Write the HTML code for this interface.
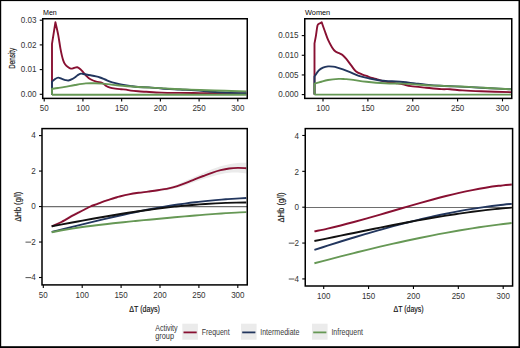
<!DOCTYPE html>
<html><head><meta charset="utf-8"><title>Activity group chart</title>
<style>
html,body{margin:0;padding:0;background:#fff;}
body{width:520px;height:348px;position:relative;overflow:hidden;font-family:"Liberation Sans", sans-serif;}
text.b{stroke:#222;stroke-width:0.18px;}
</style></head><body>
<svg width="520" height="348" viewBox="0 0 520 348" style="position:absolute;left:0;top:0">
<rect x="0" y="0" width="520" height="348" fill="#fff"/>
<defs>
<clipPath id="ctl"><rect x="42.72" y="18.75" width="204.53" height="79.65"/></clipPath>
<clipPath id="ctr"><rect x="304.75" y="18.75" width="207.00" height="79.65"/></clipPath>
<clipPath id="cbl"><rect x="42.00" y="128.60" width="205.25" height="156.30"/></clipPath>
<clipPath id="cbr"><rect x="305.25" y="128.60" width="207.35" height="157.40"/></clipPath>
</defs>
<g clip-path="url(#ctl)">
<path d="M52.00 94.70 C52.00 86.23 52.00 52.37 52.00 43.90 C52.57 40.30 54.83 25.90 55.40 22.30 C55.87 24.40 57.37 30.55 58.20 34.90 C59.03 39.25 59.78 44.95 60.40 48.40 C61.02 51.85 61.42 53.57 61.90 55.60 C62.38 57.63 62.80 59.20 63.30 60.60 C63.80 62.00 64.13 62.93 64.90 64.00 C65.67 65.07 66.90 66.23 67.90 67.00 C68.90 67.77 69.90 68.43 70.90 68.60 C71.90 68.77 72.83 68.22 73.90 68.00 C74.97 67.78 76.22 67.10 77.30 67.30 C78.38 67.50 79.37 68.32 80.40 69.20 C81.43 70.08 82.48 71.47 83.50 72.60 C84.52 73.73 85.33 74.88 86.50 76.00 C87.67 77.12 88.88 78.35 90.50 79.30 C92.12 80.25 94.28 81.12 96.20 81.70 C98.12 82.28 100.33 82.08 102.00 82.80 C103.67 83.52 104.87 85.20 106.20 86.00 C107.53 86.80 108.47 87.17 110.00 87.60 C111.53 88.03 113.57 88.33 115.40 88.60 C117.23 88.87 119.20 89.03 121.00 89.20 C122.80 89.37 124.57 89.37 126.20 89.60 C127.83 89.83 128.83 90.32 130.80 90.60 C132.77 90.88 135.43 91.10 138.00 91.30 C140.57 91.50 142.28 91.58 146.20 91.80 C150.12 92.02 155.87 92.42 161.50 92.60 C167.13 92.78 173.58 92.82 180.00 92.90 C186.42 92.98 193.33 93.03 200.00 93.10 C206.67 93.17 212.28 93.25 220.00 93.30 C227.72 93.35 241.92 93.38 246.30 93.40" fill="none" stroke="#881032" stroke-width="1.90" stroke-linejoin="round" stroke-linecap="butt" />
<path d="M52.00 94.70 C52.00 92.53 52.00 83.87 52.00 81.70 C52.47 81.28 53.77 79.88 54.80 79.20 C55.83 78.52 57.00 77.65 58.20 77.60 C59.40 77.55 60.78 78.48 62.00 78.90 C63.22 79.32 64.42 79.83 65.50 80.10 C66.58 80.37 67.42 80.65 68.50 80.50 C69.58 80.35 70.83 79.80 72.00 79.20 C73.17 78.60 74.42 77.67 75.50 76.90 C76.58 76.13 77.55 75.15 78.50 74.60 C79.45 74.05 80.12 73.65 81.20 73.60 C82.28 73.55 83.45 74.02 85.00 74.30 C86.55 74.58 88.67 74.95 90.50 75.30 C92.33 75.65 94.42 76.03 96.00 76.40 C97.58 76.77 98.50 76.98 100.00 77.50 C101.50 78.02 103.33 78.82 105.00 79.50 C106.67 80.18 108.27 80.98 110.00 81.60 C111.73 82.22 113.40 82.67 115.40 83.20 C117.40 83.73 119.43 84.32 122.00 84.80 C124.57 85.28 128.05 85.73 130.80 86.10 C133.55 86.47 135.43 86.78 138.50 87.00 C141.57 87.22 145.37 87.15 149.20 87.40 C153.03 87.65 156.37 88.15 161.50 88.50 C166.63 88.85 174.42 89.20 180.00 89.50 C185.58 89.80 190.50 90.00 195.00 90.30 C199.50 90.60 203.17 90.97 207.00 91.30 C210.83 91.63 214.17 92.03 218.00 92.30 C221.83 92.57 225.28 92.75 230.00 92.90 C234.72 93.05 243.58 93.15 246.30 93.20" fill="none" stroke="#22365e" stroke-width="1.90" stroke-linejoin="round" stroke-linecap="butt" />
<path d="M52.00 94.70 C52.00 93.72 52.00 89.78 52.00 88.80 C53.00 88.67 55.83 88.32 58.00 88.00 C60.17 87.68 62.17 87.40 65.00 86.90 C67.83 86.40 71.53 85.58 75.00 85.00 C78.47 84.42 82.47 83.68 85.80 83.40 C89.13 83.12 92.30 83.27 95.00 83.30 C97.70 83.33 99.50 83.42 102.00 83.60 C104.50 83.78 107.50 84.12 110.00 84.40 C112.50 84.68 114.50 85.03 117.00 85.30 C119.50 85.57 122.00 85.75 125.00 86.00 C128.00 86.25 130.83 86.53 135.00 86.80 C139.17 87.07 145.58 87.38 150.00 87.60 C154.42 87.82 158.17 87.90 161.50 88.10 C164.83 88.30 166.08 88.57 170.00 88.80 C173.92 89.03 180.00 89.30 185.00 89.50 C190.00 89.70 193.33 89.78 200.00 90.00 C206.67 90.22 217.28 90.57 225.00 90.80 C232.72 91.03 242.75 91.30 246.30 91.40" fill="none" stroke="#669855" stroke-width="1.90" stroke-linejoin="round" stroke-linecap="butt" />
<line x1="52" y1="94.7" x2="246.5" y2="94.7" stroke="#669855" stroke-width="1.90"/>
</g>
<g clip-path="url(#ctr)">
<path d="M314.50 94.60 C314.50 86.07 314.50 51.93 314.50 43.40 C314.75 42.05 315.50 38.28 316.00 35.30 C316.50 32.32 316.93 27.45 317.50 25.50 C318.07 23.55 318.70 24.13 319.40 23.60 C320.10 23.07 321.32 22.52 321.70 22.30 C322.18 23.67 323.53 27.57 324.60 30.50 C325.67 33.43 326.85 37.08 328.10 39.90 C329.35 42.72 330.87 45.45 332.10 47.40 C333.33 49.35 334.25 50.60 335.50 51.60 C336.75 52.60 338.43 52.83 339.60 53.40 C340.77 53.97 341.35 54.03 342.50 55.00 C343.65 55.97 345.05 57.47 346.50 59.20 C347.95 60.93 349.65 63.40 351.20 65.40 C352.75 67.40 354.02 69.70 355.80 71.20 C357.58 72.70 360.12 73.62 361.90 74.40 C363.68 75.18 364.82 75.30 366.50 75.90 C368.18 76.50 370.20 77.43 372.00 78.00 C373.80 78.57 375.13 78.70 377.30 79.30 C379.47 79.90 381.98 80.97 385.00 81.60 C388.02 82.23 392.40 82.65 395.40 83.10 C398.40 83.55 400.43 83.80 403.00 84.30 C405.57 84.80 406.93 85.53 410.80 86.10 C414.67 86.67 421.08 87.20 426.20 87.70 C431.32 88.20 437.53 88.85 441.50 89.10 C445.47 89.35 446.50 88.98 450.00 89.20 C453.50 89.42 457.33 90.05 462.50 90.40 C467.67 90.75 472.87 91.00 481.00 91.30 C489.13 91.60 506.25 92.05 511.30 92.20" fill="none" stroke="#881032" stroke-width="1.90" stroke-linejoin="round" stroke-linecap="butt" />
<path d="M314.50 94.60 C314.50 91.58 314.50 79.52 314.50 76.50 C315.22 75.48 317.38 71.88 318.80 70.40 C320.22 68.92 321.45 68.27 323.00 67.60 C324.55 66.93 326.43 66.57 328.10 66.40 C329.77 66.23 331.47 66.40 333.00 66.60 C334.53 66.80 334.78 66.82 337.30 67.60 C339.82 68.38 344.52 69.93 348.10 71.30 C351.68 72.67 355.22 74.60 358.80 75.80 C362.38 77.00 366.07 77.72 369.60 78.50 C373.13 79.28 376.27 80.03 380.00 80.50 C383.73 80.97 388.17 81.05 392.00 81.30 C395.83 81.55 399.17 81.65 403.00 82.00 C406.83 82.35 411.17 82.97 415.00 83.40 C418.83 83.83 421.83 84.22 426.00 84.60 C430.17 84.98 435.17 85.40 440.00 85.70 C444.83 86.00 450.00 86.17 455.00 86.40 C460.00 86.63 464.17 86.80 470.00 87.10 C475.83 87.40 483.12 87.83 490.00 88.20 C496.88 88.57 507.75 89.12 511.30 89.30" fill="none" stroke="#22365e" stroke-width="1.90" stroke-linejoin="round" stroke-linecap="butt" />
<path d="M314.50 94.60 C314.50 92.77 314.50 85.43 314.50 83.60 C315.48 83.33 318.15 82.60 320.40 82.00 C322.65 81.40 324.93 80.52 328.00 80.00 C331.07 79.48 335.97 79.05 338.80 78.90 C341.63 78.75 342.93 78.98 345.00 79.10 C347.07 79.22 347.62 79.15 351.20 79.60 C354.78 80.05 360.87 81.18 366.50 81.80 C372.13 82.42 378.92 83.00 385.00 83.30 C391.08 83.60 398.00 83.42 403.00 83.60 C408.00 83.78 411.17 84.12 415.00 84.40 C418.83 84.68 421.83 85.07 426.00 85.30 C430.17 85.53 435.17 85.62 440.00 85.80 C444.83 85.98 450.18 86.22 455.00 86.40 C459.82 86.58 464.18 86.67 468.90 86.90 C473.62 87.13 476.23 87.38 483.30 87.80 C490.37 88.22 506.63 89.13 511.30 89.40" fill="none" stroke="#669855" stroke-width="1.90" stroke-linejoin="round" stroke-linecap="butt" />
<line x1="314.5" y1="94.6" x2="511.5" y2="94.6" stroke="#669855" stroke-width="1.90"/>
</g>
<g clip-path="url(#cbl)">
<path d="M51.70 225.00 C53.33 224.28 57.93 222.60 61.50 220.70 C65.07 218.80 69.25 215.73 73.10 213.60 C76.95 211.47 80.75 209.65 84.60 207.90 C88.45 206.15 91.97 204.68 96.20 203.10 C100.43 201.52 106.17 199.62 110.00 198.40 C113.83 197.18 114.45 196.88 119.20 195.80 C123.95 194.72 132.08 193.00 138.50 191.90 C144.92 190.80 152.67 190.03 157.70 189.20 C162.73 188.37 165.43 187.70 168.70 186.90 C171.97 186.10 174.42 185.45 177.30 184.40 C180.18 183.35 183.12 181.87 186.00 180.60 C188.88 179.33 191.72 178.07 194.60 176.80 C197.48 175.53 200.42 174.27 203.30 173.00 C206.18 171.73 209.02 170.33 211.90 169.20 C214.78 168.07 217.72 167.03 220.60 166.20 C223.48 165.37 226.32 164.73 229.20 164.20 C232.08 163.67 235.05 163.23 237.90 163.00 C240.75 162.77 244.90 162.83 246.30 162.80 L246.30 173.40 C244.90 173.27 240.75 172.70 237.90 172.60 C235.05 172.50 232.08 172.53 229.20 172.80 C226.32 173.07 223.48 173.60 220.60 174.20 C217.72 174.80 214.78 175.60 211.90 176.40 C209.02 177.20 206.18 178.07 203.30 179.00 C200.42 179.93 197.48 180.97 194.60 182.00 C191.72 183.03 188.88 184.23 186.00 185.20 C183.12 186.17 180.18 187.02 177.30 187.80 C174.42 188.58 171.97 189.30 168.70 189.90 C165.43 190.50 162.73 190.77 157.70 191.40 C152.67 192.03 144.92 192.70 138.50 193.70 C132.08 194.70 123.95 196.35 119.20 197.40 C114.45 198.45 113.83 198.78 110.00 200.00 C106.17 201.22 100.43 203.12 96.20 204.70 C91.97 206.28 88.45 207.68 84.60 209.50 C80.75 211.32 76.95 213.33 73.10 215.60 C69.25 217.87 65.07 221.03 61.50 223.10 C57.93 225.17 53.33 227.18 51.70 228.00 Z" fill="#ebebeb" stroke="none"/>
<line x1="42.00" y1="206.60" x2="247.25" y2="206.60" stroke="#6e6e6e" stroke-width="1.1"/>
<path d="M51.70 226.50 C53.33 225.75 57.93 223.85 61.50 222.00 C65.07 220.15 70.27 216.97 73.10 215.40 C75.93 213.83 76.58 213.58 78.50 212.60 C80.42 211.62 82.60 210.52 84.60 209.50 C86.60 208.48 88.57 207.37 90.50 206.50 C92.43 205.63 94.30 205.03 96.20 204.30 C98.10 203.57 99.60 202.92 101.90 202.10 C104.20 201.28 107.65 200.17 110.00 199.40 C112.35 198.63 114.47 197.97 116.00 197.50 C117.53 197.03 117.07 197.12 119.20 196.60 C121.33 196.08 125.58 195.03 128.80 194.40 C132.02 193.77 135.28 193.27 138.50 192.80 C141.72 192.33 144.90 192.02 148.10 191.60 C151.30 191.18 154.27 190.83 157.70 190.30 C161.13 189.77 165.43 189.10 168.70 188.40 C171.97 187.70 174.42 187.02 177.30 186.10 C180.18 185.18 183.12 184.02 186.00 182.90 C188.88 181.78 191.72 180.55 194.60 179.40 C197.48 178.25 200.42 177.10 203.30 176.00 C206.18 174.90 209.02 173.77 211.90 172.80 C214.78 171.83 217.72 170.92 220.60 170.20 C223.48 169.48 226.32 168.88 229.20 168.50 C232.08 168.12 235.05 167.95 237.90 167.90 C240.75 167.85 244.90 168.15 246.30 168.20" fill="none" stroke="#881032" stroke-width="1.90" stroke-linejoin="round" stroke-linecap="butt" />
<path d="M51.70 231.82 C53.41 231.42 58.53 230.23 61.94 229.41 C65.36 228.60 68.77 227.77 72.18 226.94 C75.60 226.10 79.01 225.26 82.43 224.42 C85.84 223.59 89.25 222.74 92.67 221.91 C96.08 221.08 99.50 220.25 102.91 219.44 C106.32 218.62 109.74 217.81 113.15 217.02 C116.57 216.23 119.98 215.46 123.39 214.70 C126.81 213.94 130.22 213.20 133.64 212.48 C137.05 211.77 140.46 211.07 143.88 210.40 C147.29 209.73 150.71 209.08 154.12 208.45 C157.54 207.83 160.95 207.23 164.36 206.66 C167.78 206.09 171.19 205.55 174.61 205.03 C178.02 204.52 181.43 204.03 184.85 203.57 C188.26 203.11 191.68 202.67 195.09 202.27 C198.50 201.86 201.92 201.48 205.33 201.13 C208.75 200.77 212.16 200.45 215.57 200.14 C218.99 199.84 222.40 199.56 225.82 199.30 C229.23 199.04 232.64 198.81 236.06 198.59 C239.47 198.37 244.59 198.09 246.30 197.99" fill="none" stroke="#22365e" stroke-width="1.90" stroke-linejoin="round" stroke-linecap="butt" />
<path d="M51.70 226.29 C53.41 225.97 58.53 225.02 61.94 224.39 C65.36 223.76 68.77 223.12 72.18 222.50 C75.60 221.87 79.01 221.24 82.43 220.62 C85.84 220.00 89.25 219.38 92.67 218.78 C96.08 218.17 99.50 217.57 102.91 216.98 C106.32 216.39 109.74 215.80 113.15 215.23 C116.57 214.67 119.98 214.11 123.39 213.56 C126.81 213.02 130.22 212.49 133.64 211.98 C137.05 211.46 140.46 210.96 143.88 210.48 C147.29 210.00 150.71 209.53 154.12 209.09 C157.54 208.64 160.95 208.21 164.36 207.80 C167.78 207.40 171.19 207.01 174.61 206.64 C178.02 206.28 181.43 205.93 184.85 205.61 C188.26 205.29 191.68 204.99 195.09 204.71 C198.50 204.44 201.92 204.18 205.33 203.96 C208.75 203.73 212.16 203.53 215.57 203.35 C218.99 203.17 222.40 203.02 225.82 202.89 C229.23 202.77 232.64 202.67 236.06 202.60 C239.47 202.52 244.59 202.48 246.30 202.46" fill="none" stroke="#111" stroke-width="1.90" stroke-linejoin="round" stroke-linecap="butt" />
<path d="M51.70 232.20 C53.41 231.88 58.53 230.88 61.94 230.27 C65.36 229.67 68.77 229.11 72.18 228.57 C75.60 228.04 79.01 227.54 82.43 227.06 C85.84 226.58 89.25 226.13 92.67 225.70 C96.08 225.26 99.50 224.85 102.91 224.45 C106.32 224.05 109.74 223.67 113.15 223.29 C116.57 222.92 119.98 222.56 123.39 222.21 C126.81 221.85 130.22 221.51 133.64 221.17 C137.05 220.82 140.46 220.49 143.88 220.16 C147.29 219.83 150.71 219.50 154.12 219.18 C157.54 218.85 160.95 218.53 164.36 218.22 C167.78 217.90 171.19 217.58 174.61 217.27 C178.02 216.96 181.43 216.65 184.85 216.35 C188.26 216.05 191.68 215.75 195.09 215.47 C198.50 215.18 201.92 214.90 205.33 214.63 C208.75 214.36 212.16 214.09 215.57 213.85 C218.99 213.60 222.40 213.37 225.82 213.16 C229.23 212.95 232.64 212.75 236.06 212.58 C239.47 212.41 244.59 212.22 246.30 212.15" fill="none" stroke="#669855" stroke-width="1.90" stroke-linejoin="round" stroke-linecap="butt" />
</g>
<g clip-path="url(#cbr)">
<line x1="305.25" y1="207.45" x2="512.60" y2="207.45" stroke="#6e6e6e" stroke-width="1.1"/>
<path d="M314.40 231.41 C316.59 230.94 323.17 229.61 327.56 228.62 C331.95 227.63 336.33 226.56 340.72 225.47 C345.11 224.37 349.49 223.22 353.88 222.04 C358.27 220.86 362.65 219.64 367.04 218.40 C371.43 217.16 375.81 215.89 380.20 214.62 C384.59 213.34 388.97 212.05 393.36 210.76 C397.75 209.48 402.13 208.18 406.52 206.91 C410.91 205.64 415.29 204.36 419.68 203.12 C424.07 201.89 428.45 200.66 432.84 199.48 C437.23 198.30 441.61 197.14 446.00 196.04 C450.39 194.94 454.77 193.88 459.16 192.89 C463.55 191.89 467.93 190.95 472.32 190.08 C476.71 189.22 481.09 188.41 485.48 187.70 C489.87 186.98 494.25 186.34 498.64 185.80 C503.03 185.26 509.61 184.69 511.80 184.47" fill="none" stroke="#881032" stroke-width="1.90" stroke-linejoin="round" stroke-linecap="butt" />
<path d="M314.40 249.92 C316.59 249.21 323.17 247.07 327.56 245.67 C331.95 244.27 336.33 242.88 340.72 241.52 C345.11 240.15 349.49 238.80 353.88 237.47 C358.27 236.15 362.65 234.84 367.04 233.56 C371.43 232.28 375.81 231.02 380.20 229.79 C384.59 228.56 388.97 227.35 393.36 226.18 C397.75 225.00 402.13 223.86 406.52 222.75 C410.91 221.64 415.29 220.56 419.68 219.52 C424.07 218.48 428.45 217.47 432.84 216.50 C437.23 215.53 441.61 214.60 446.00 213.72 C450.39 212.83 454.77 211.98 459.16 211.18 C463.55 210.38 467.93 209.62 472.32 208.91 C476.71 208.20 481.09 207.54 485.48 206.92 C489.87 206.31 494.25 205.75 498.64 205.24 C503.03 204.73 509.61 204.10 511.80 203.88" fill="none" stroke="#22365e" stroke-width="1.90" stroke-linejoin="round" stroke-linecap="butt" />
<path d="M314.40 240.99 C316.59 240.55 323.17 239.22 327.56 238.33 C331.95 237.44 336.33 236.54 340.72 235.65 C345.11 234.75 349.49 233.85 353.88 232.95 C358.27 232.05 362.65 231.16 367.04 230.27 C371.43 229.38 375.81 228.49 380.20 227.61 C384.59 226.74 388.97 225.87 393.36 225.02 C397.75 224.17 402.13 223.32 406.52 222.50 C410.91 221.67 415.29 220.86 419.68 220.08 C424.07 219.29 428.45 218.52 432.84 217.77 C437.23 217.03 441.61 216.30 446.00 215.61 C450.39 214.92 454.77 214.25 459.16 213.61 C463.55 212.97 467.93 212.37 472.32 211.79 C476.71 211.22 481.09 210.68 485.48 210.18 C489.87 209.69 494.25 209.22 498.64 208.80 C503.03 208.38 509.61 207.86 511.80 207.67" fill="none" stroke="#111" stroke-width="1.90" stroke-linejoin="round" stroke-linecap="butt" />
<path d="M314.40 263.28 C316.59 262.70 323.16 260.96 327.55 259.81 C331.93 258.67 336.31 257.53 340.69 256.41 C345.08 255.29 349.46 254.18 353.84 253.08 C358.22 251.99 362.60 250.91 366.99 249.84 C371.37 248.78 375.75 247.73 380.13 246.70 C384.52 245.67 388.90 244.66 393.28 243.67 C397.66 242.68 402.04 241.70 406.43 240.75 C410.81 239.80 415.19 238.87 419.57 237.97 C423.96 237.06 428.34 236.18 432.72 235.32 C437.10 234.47 441.48 233.63 445.87 232.83 C450.25 232.03 454.63 231.25 459.01 230.50 C463.40 229.75 467.78 229.03 472.16 228.34 C476.54 227.65 480.92 226.99 485.31 226.37 C489.69 225.74 494.07 225.15 498.45 224.59 C502.84 224.03 509.41 223.28 511.60 223.02" fill="none" stroke="#669855" stroke-width="1.90" stroke-linejoin="round" stroke-linecap="butt" />
</g>
<rect x="42.72" y="18.75" width="204.53" height="79.65" fill="none" stroke="#000" stroke-width="1.5"/>
<rect x="304.75" y="18.75" width="207.00" height="79.65" fill="none" stroke="#000" stroke-width="1.5"/>
<rect x="42.00" y="128.60" width="205.25" height="156.30" fill="none" stroke="#000" stroke-width="1.5"/>
<rect x="305.25" y="128.60" width="207.35" height="157.40" fill="none" stroke="#000" stroke-width="1.5"/>
<line x1="44.20" y1="98.40" x2="44.20" y2="101.40" stroke="#000" stroke-width="1.1"/>
<text x="44.20" y="111.30" text-anchor="middle" font-size="8.6" fill="#333" font-family="&quot;Liberation Sans&quot;, sans-serif" textLength="8.90" lengthAdjust="spacingAndGlyphs">50</text>
<line x1="82.93" y1="98.40" x2="82.93" y2="101.40" stroke="#000" stroke-width="1.1"/>
<text x="82.93" y="111.30" text-anchor="middle" font-size="8.6" fill="#333" font-family="&quot;Liberation Sans&quot;, sans-serif" textLength="13.34" lengthAdjust="spacingAndGlyphs">100</text>
<line x1="121.65" y1="98.40" x2="121.65" y2="101.40" stroke="#000" stroke-width="1.1"/>
<text x="121.65" y="111.30" text-anchor="middle" font-size="8.6" fill="#333" font-family="&quot;Liberation Sans&quot;, sans-serif" textLength="13.34" lengthAdjust="spacingAndGlyphs">150</text>
<line x1="160.38" y1="98.40" x2="160.38" y2="101.40" stroke="#000" stroke-width="1.1"/>
<text x="160.38" y="111.30" text-anchor="middle" font-size="8.6" fill="#333" font-family="&quot;Liberation Sans&quot;, sans-serif" textLength="13.34" lengthAdjust="spacingAndGlyphs">200</text>
<line x1="199.10" y1="98.40" x2="199.10" y2="101.40" stroke="#000" stroke-width="1.1"/>
<text x="199.10" y="111.30" text-anchor="middle" font-size="8.6" fill="#333" font-family="&quot;Liberation Sans&quot;, sans-serif" textLength="13.34" lengthAdjust="spacingAndGlyphs">250</text>
<line x1="237.82" y1="98.40" x2="237.82" y2="101.40" stroke="#000" stroke-width="1.1"/>
<text x="237.82" y="111.30" text-anchor="middle" font-size="8.6" fill="#333" font-family="&quot;Liberation Sans&quot;, sans-serif" textLength="13.34" lengthAdjust="spacingAndGlyphs">300</text>
<line x1="43.30" y1="284.90" x2="43.30" y2="287.90" stroke="#000" stroke-width="1.1"/>
<text x="43.30" y="298.10" text-anchor="middle" font-size="8.6" fill="#333" font-family="&quot;Liberation Sans&quot;, sans-serif" textLength="8.90" lengthAdjust="spacingAndGlyphs">50</text>
<line x1="82.20" y1="284.90" x2="82.20" y2="287.90" stroke="#000" stroke-width="1.1"/>
<text x="82.20" y="298.10" text-anchor="middle" font-size="8.6" fill="#333" font-family="&quot;Liberation Sans&quot;, sans-serif" textLength="13.34" lengthAdjust="spacingAndGlyphs">100</text>
<line x1="121.10" y1="284.90" x2="121.10" y2="287.90" stroke="#000" stroke-width="1.1"/>
<text x="121.10" y="298.10" text-anchor="middle" font-size="8.6" fill="#333" font-family="&quot;Liberation Sans&quot;, sans-serif" textLength="13.34" lengthAdjust="spacingAndGlyphs">150</text>
<line x1="160.00" y1="284.90" x2="160.00" y2="287.90" stroke="#000" stroke-width="1.1"/>
<text x="160.00" y="298.10" text-anchor="middle" font-size="8.6" fill="#333" font-family="&quot;Liberation Sans&quot;, sans-serif" textLength="13.34" lengthAdjust="spacingAndGlyphs">200</text>
<line x1="198.90" y1="284.90" x2="198.90" y2="287.90" stroke="#000" stroke-width="1.1"/>
<text x="198.90" y="298.10" text-anchor="middle" font-size="8.6" fill="#333" font-family="&quot;Liberation Sans&quot;, sans-serif" textLength="13.34" lengthAdjust="spacingAndGlyphs">250</text>
<line x1="237.80" y1="284.90" x2="237.80" y2="287.90" stroke="#000" stroke-width="1.1"/>
<text x="237.80" y="298.10" text-anchor="middle" font-size="8.6" fill="#333" font-family="&quot;Liberation Sans&quot;, sans-serif" textLength="13.34" lengthAdjust="spacingAndGlyphs">300</text>
<line x1="323.00" y1="98.40" x2="323.00" y2="101.40" stroke="#000" stroke-width="1.1"/>
<text x="323.00" y="111.00" text-anchor="middle" font-size="8.6" fill="#333" font-family="&quot;Liberation Sans&quot;, sans-serif" textLength="13.34" lengthAdjust="spacingAndGlyphs">100</text>
<line x1="367.88" y1="98.40" x2="367.88" y2="101.40" stroke="#000" stroke-width="1.1"/>
<text x="367.88" y="111.00" text-anchor="middle" font-size="8.6" fill="#333" font-family="&quot;Liberation Sans&quot;, sans-serif" textLength="13.34" lengthAdjust="spacingAndGlyphs">150</text>
<line x1="412.75" y1="98.40" x2="412.75" y2="101.40" stroke="#000" stroke-width="1.1"/>
<text x="412.75" y="111.00" text-anchor="middle" font-size="8.6" fill="#333" font-family="&quot;Liberation Sans&quot;, sans-serif" textLength="13.34" lengthAdjust="spacingAndGlyphs">200</text>
<line x1="457.62" y1="98.40" x2="457.62" y2="101.40" stroke="#000" stroke-width="1.1"/>
<text x="457.62" y="111.00" text-anchor="middle" font-size="8.6" fill="#333" font-family="&quot;Liberation Sans&quot;, sans-serif" textLength="13.34" lengthAdjust="spacingAndGlyphs">250</text>
<line x1="502.50" y1="98.40" x2="502.50" y2="101.40" stroke="#000" stroke-width="1.1"/>
<text x="502.50" y="111.00" text-anchor="middle" font-size="8.6" fill="#333" font-family="&quot;Liberation Sans&quot;, sans-serif" textLength="13.34" lengthAdjust="spacingAndGlyphs">300</text>
<line x1="323.70" y1="286.00" x2="323.70" y2="289.00" stroke="#000" stroke-width="1.1"/>
<text x="323.70" y="299.20" text-anchor="middle" font-size="8.6" fill="#333" font-family="&quot;Liberation Sans&quot;, sans-serif" textLength="13.34" lengthAdjust="spacingAndGlyphs">100</text>
<line x1="368.57" y1="286.00" x2="368.57" y2="289.00" stroke="#000" stroke-width="1.1"/>
<text x="368.57" y="299.20" text-anchor="middle" font-size="8.6" fill="#333" font-family="&quot;Liberation Sans&quot;, sans-serif" textLength="13.34" lengthAdjust="spacingAndGlyphs">150</text>
<line x1="413.45" y1="286.00" x2="413.45" y2="289.00" stroke="#000" stroke-width="1.1"/>
<text x="413.45" y="299.20" text-anchor="middle" font-size="8.6" fill="#333" font-family="&quot;Liberation Sans&quot;, sans-serif" textLength="13.34" lengthAdjust="spacingAndGlyphs">200</text>
<line x1="458.32" y1="286.00" x2="458.32" y2="289.00" stroke="#000" stroke-width="1.1"/>
<text x="458.32" y="299.20" text-anchor="middle" font-size="8.6" fill="#333" font-family="&quot;Liberation Sans&quot;, sans-serif" textLength="13.34" lengthAdjust="spacingAndGlyphs">250</text>
<line x1="503.20" y1="286.00" x2="503.20" y2="289.00" stroke="#000" stroke-width="1.1"/>
<text x="503.20" y="299.20" text-anchor="middle" font-size="8.6" fill="#333" font-family="&quot;Liberation Sans&quot;, sans-serif" textLength="13.34" lengthAdjust="spacingAndGlyphs">300</text>
<line x1="39.72" y1="94.30" x2="42.72" y2="94.30" stroke="#000" stroke-width="1.1"/>
<text x="36.42" y="96.90" text-anchor="end" font-size="8.6" fill="#333" font-family="&quot;Liberation Sans&quot;, sans-serif" textLength="15.76" lengthAdjust="spacingAndGlyphs">0.00</text>
<line x1="39.72" y1="69.60" x2="42.72" y2="69.60" stroke="#000" stroke-width="1.1"/>
<text x="36.42" y="72.20" text-anchor="end" font-size="8.6" fill="#333" font-family="&quot;Liberation Sans&quot;, sans-serif" textLength="15.76" lengthAdjust="spacingAndGlyphs">0.01</text>
<line x1="39.72" y1="44.90" x2="42.72" y2="44.90" stroke="#000" stroke-width="1.1"/>
<text x="36.42" y="47.50" text-anchor="end" font-size="8.6" fill="#333" font-family="&quot;Liberation Sans&quot;, sans-serif" textLength="15.76" lengthAdjust="spacingAndGlyphs">0.02</text>
<line x1="39.72" y1="20.20" x2="42.72" y2="20.20" stroke="#000" stroke-width="1.1"/>
<text x="36.42" y="22.80" text-anchor="end" font-size="8.6" fill="#333" font-family="&quot;Liberation Sans&quot;, sans-serif" textLength="15.76" lengthAdjust="spacingAndGlyphs">0.03</text>
<line x1="301.75" y1="94.60" x2="304.75" y2="94.60" stroke="#000" stroke-width="1.1"/>
<text x="298.45" y="97.20" text-anchor="end" font-size="8.6" fill="#333" font-family="&quot;Liberation Sans&quot;, sans-serif" textLength="20.27" lengthAdjust="spacingAndGlyphs">0.000</text>
<line x1="301.75" y1="74.94" x2="304.75" y2="74.94" stroke="#000" stroke-width="1.1"/>
<text x="298.45" y="77.53" text-anchor="end" font-size="8.6" fill="#333" font-family="&quot;Liberation Sans&quot;, sans-serif" textLength="20.27" lengthAdjust="spacingAndGlyphs">0.005</text>
<line x1="301.75" y1="55.27" x2="304.75" y2="55.27" stroke="#000" stroke-width="1.1"/>
<text x="298.45" y="57.87" text-anchor="end" font-size="8.6" fill="#333" font-family="&quot;Liberation Sans&quot;, sans-serif" textLength="20.27" lengthAdjust="spacingAndGlyphs">0.010</text>
<line x1="301.75" y1="35.60" x2="304.75" y2="35.60" stroke="#000" stroke-width="1.1"/>
<text x="298.45" y="38.20" text-anchor="end" font-size="8.6" fill="#333" font-family="&quot;Liberation Sans&quot;, sans-serif" textLength="20.27" lengthAdjust="spacingAndGlyphs">0.015</text>
<line x1="39.00" y1="277.51" x2="42.00" y2="277.51" stroke="#000" stroke-width="1.1"/>
<text x="35.70" y="280.36" text-anchor="end" font-size="8.6" fill="#333" font-family="&quot;Liberation Sans&quot;, sans-serif" textLength="4.50" lengthAdjust="spacingAndGlyphs">4</text>
<line x1="25.50" y1="277.61" x2="31.20" y2="277.61" stroke="#333" stroke-width="0.85"/>
<line x1="39.00" y1="242.03" x2="42.00" y2="242.03" stroke="#000" stroke-width="1.1"/>
<text x="35.70" y="244.88" text-anchor="end" font-size="8.6" fill="#333" font-family="&quot;Liberation Sans&quot;, sans-serif" textLength="4.50" lengthAdjust="spacingAndGlyphs">2</text>
<line x1="25.50" y1="242.13" x2="31.20" y2="242.13" stroke="#333" stroke-width="0.85"/>
<line x1="39.00" y1="206.55" x2="42.00" y2="206.55" stroke="#000" stroke-width="1.1"/>
<text x="35.70" y="209.40" text-anchor="end" font-size="8.6" fill="#333" font-family="&quot;Liberation Sans&quot;, sans-serif" textLength="4.50" lengthAdjust="spacingAndGlyphs">0</text>
<line x1="39.00" y1="171.07" x2="42.00" y2="171.07" stroke="#000" stroke-width="1.1"/>
<text x="35.70" y="173.92" text-anchor="end" font-size="8.6" fill="#333" font-family="&quot;Liberation Sans&quot;, sans-serif" textLength="4.50" lengthAdjust="spacingAndGlyphs">2</text>
<line x1="39.00" y1="135.59" x2="42.00" y2="135.59" stroke="#000" stroke-width="1.1"/>
<text x="35.70" y="138.44" text-anchor="end" font-size="8.6" fill="#333" font-family="&quot;Liberation Sans&quot;, sans-serif" textLength="4.50" lengthAdjust="spacingAndGlyphs">4</text>
<line x1="302.25" y1="278.92" x2="305.25" y2="278.92" stroke="#000" stroke-width="1.1"/>
<text x="298.95" y="282.12" text-anchor="end" font-size="8.6" fill="#333" font-family="&quot;Liberation Sans&quot;, sans-serif" textLength="4.50" lengthAdjust="spacingAndGlyphs">4</text>
<line x1="288.75" y1="279.02" x2="294.45" y2="279.02" stroke="#333" stroke-width="0.85"/>
<line x1="302.25" y1="243.06" x2="305.25" y2="243.06" stroke="#000" stroke-width="1.1"/>
<text x="298.95" y="246.26" text-anchor="end" font-size="8.6" fill="#333" font-family="&quot;Liberation Sans&quot;, sans-serif" textLength="4.50" lengthAdjust="spacingAndGlyphs">2</text>
<line x1="288.75" y1="243.16" x2="294.45" y2="243.16" stroke="#333" stroke-width="0.85"/>
<line x1="302.25" y1="207.20" x2="305.25" y2="207.20" stroke="#000" stroke-width="1.1"/>
<text x="298.95" y="210.40" text-anchor="end" font-size="8.6" fill="#333" font-family="&quot;Liberation Sans&quot;, sans-serif" textLength="4.50" lengthAdjust="spacingAndGlyphs">0</text>
<line x1="302.25" y1="171.34" x2="305.25" y2="171.34" stroke="#000" stroke-width="1.1"/>
<text x="298.95" y="174.54" text-anchor="end" font-size="8.6" fill="#333" font-family="&quot;Liberation Sans&quot;, sans-serif" textLength="4.50" lengthAdjust="spacingAndGlyphs">2</text>
<line x1="302.25" y1="135.48" x2="305.25" y2="135.48" stroke="#000" stroke-width="1.1"/>
<text x="298.95" y="138.68" text-anchor="end" font-size="8.6" fill="#333" font-family="&quot;Liberation Sans&quot;, sans-serif" textLength="4.50" lengthAdjust="spacingAndGlyphs">4</text>
<text x="43.0" y="15.4" font-size="7.9" fill="#000" font-family="&quot;Liberation Sans&quot;, sans-serif" textLength="13.8" lengthAdjust="spacingAndGlyphs">Men</text>
<text x="305.0" y="15.3" font-size="7.6" fill="#000" font-family="&quot;Liberation Sans&quot;, sans-serif" textLength="25.2" lengthAdjust="spacingAndGlyphs">Women</text>
<text class="b" transform="translate(15.0,58.4) rotate(-90)" text-anchor="middle" font-size="8.8" fill="#111" font-family="&quot;Liberation Sans&quot;, sans-serif" textLength="20.8" lengthAdjust="spacingAndGlyphs">Density</text>
<text class="b" transform="translate(21.3,206.8) rotate(-90)" text-anchor="middle" font-size="8.8" fill="#111" font-family="&quot;Liberation Sans&quot;, sans-serif" textLength="30.0" lengthAdjust="spacingAndGlyphs">ΔHb (g/l)</text>
<text class="b" transform="translate(284.4,207.5) rotate(-90)" text-anchor="middle" font-size="8.8" fill="#111" font-family="&quot;Liberation Sans&quot;, sans-serif" textLength="29.8" lengthAdjust="spacingAndGlyphs">ΔHb (g/l)</text>
<text class="b" x="144.6" y="311.7" text-anchor="middle" font-size="8.7" fill="#111" font-family="&quot;Liberation Sans&quot;, sans-serif" textLength="30.6" lengthAdjust="spacingAndGlyphs">ΔT (days)</text>
<text class="b" x="408.6" y="311.9" text-anchor="middle" font-size="8.7" fill="#111" font-family="&quot;Liberation Sans&quot;, sans-serif" textLength="30.0" lengthAdjust="spacingAndGlyphs">ΔT (days)</text>
<text x="155.2" y="330.6" font-size="8.7" fill="#333" font-family="&quot;Liberation Sans&quot;, sans-serif" textLength="22.4" lengthAdjust="spacingAndGlyphs">Activity</text>
<text x="155.2" y="339.3" font-size="8.7" fill="#333" font-family="&quot;Liberation Sans&quot;, sans-serif" textLength="18.8" lengthAdjust="spacingAndGlyphs">group</text>
<rect x="182.30" y="323.7" width="15.6" height="16.0" fill="#ebebeb"/>
<line x1="183.50" y1="332.4" x2="196.70" y2="332.4" stroke="#881032" stroke-width="1.8"/>
<text x="201.70" y="334.8" font-size="8.7" fill="#3a3a3a" font-family="&quot;Liberation Sans&quot;, sans-serif" textLength="28.0" lengthAdjust="spacingAndGlyphs">Frequent</text>
<rect x="241.00" y="323.7" width="15.6" height="16.0" fill="#ebebeb"/>
<line x1="242.20" y1="332.4" x2="255.40" y2="332.4" stroke="#22365e" stroke-width="1.8"/>
<text x="260.20" y="334.8" font-size="8.7" fill="#3a3a3a" font-family="&quot;Liberation Sans&quot;, sans-serif" textLength="39.3" lengthAdjust="spacingAndGlyphs">Intermediate</text>
<rect x="312.00" y="323.7" width="15.6" height="16.0" fill="#ebebeb"/>
<line x1="313.20" y1="332.4" x2="326.40" y2="332.4" stroke="#669855" stroke-width="1.8"/>
<text x="331.40" y="334.8" font-size="8.7" fill="#3a3a3a" font-family="&quot;Liberation Sans&quot;, sans-serif" textLength="31.6" lengthAdjust="spacingAndGlyphs">Infrequent</text>
<rect x="0" y="0" width="520" height="1.1" fill="#000"/>
<rect x="0" y="0" width="1.2" height="348" fill="#000"/>
<rect x="518.5" y="0" width="1.5" height="348" fill="#000"/>
<rect x="0" y="346.2" width="520" height="1.8" fill="#000"/>
</svg>
</body></html>
